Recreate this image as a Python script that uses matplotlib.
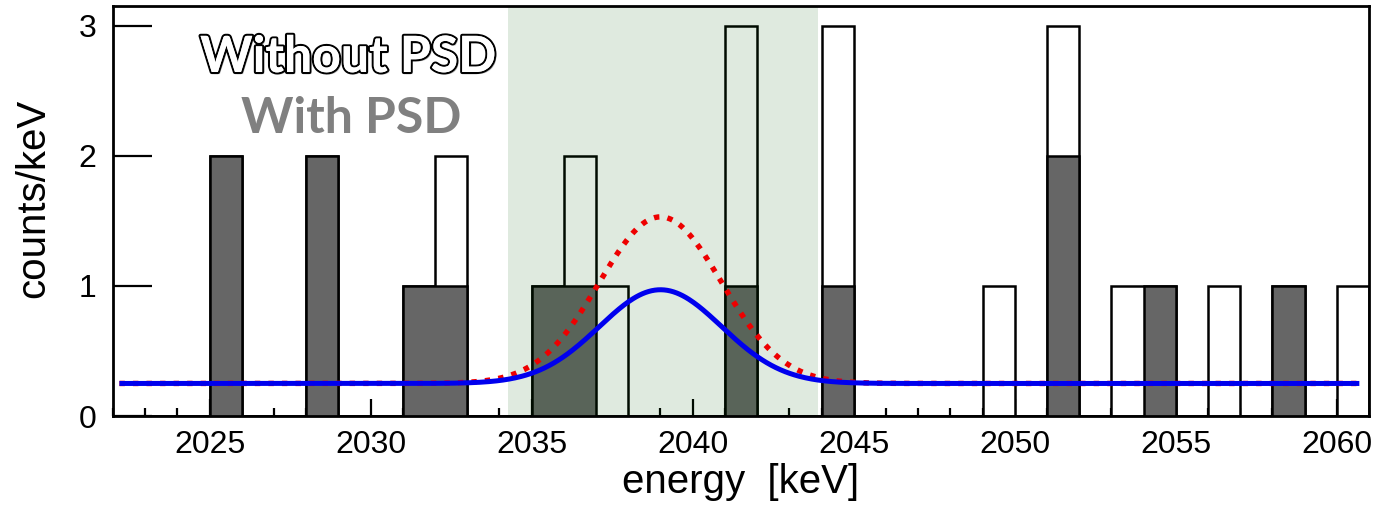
import numpy as np
import matplotlib
matplotlib.use("Agg")
import matplotlib.pyplot as plt
from matplotlib import patheffects as pe
from matplotlib.ticker import MultipleLocator

# ---- data ----
bins_total = [2025, 2028, 2031, 2032, 2035, 2036, 2037, 2041, 2044, 2049, 2051, 2053, 2054, 2056, 2058, 2060]
counts_total = [2, 2, 1, 2, 1, 2, 1, 3, 3, 1, 3, 1, 1, 1, 1, 1]
bins_psd = [2025, 2028, 2031, 2032, 2035, 2036, 2041, 2044, 2051, 2054, 2058]
counts_psd = [2, 2, 1, 1, 1, 1, 1, 1, 2, 1, 1]

# fit model parameters (flat background + gaussian peak)
fit_background = 0.25
fit_mean = 2039.0
fit_sigma = 1.9
fit_amp_without = 1.28
fit_amp_with = 0.72
fit_range = (2022.2, 2060.7)

window = (2034.25, 2043.9)
xticks_major = [2025, 2030, 2035, 2040, 2045, 2050, 2055, 2060]
yticks = [0, 1, 2, 3]
hist_range = (2022, 2061)

plt.rcParams['font.family'] = ['Liberation Sans', 'DejaVu Sans']

W, H = 1379, 505
fig = plt.figure(figsize=(W / 100, H / 100), dpi=100)
ax = fig.add_axes([113 / W, 1 - 416 / H, (1369 - 113) / W, (416 - 6) / H])

edges = np.arange(hist_range[0], hist_range[1] + 1)
h_total = np.zeros(len(edges) - 1)
h_total[np.array(bins_total) - hist_range[0]] = counts_total
h_psd = np.zeros(len(edges) - 1)
h_psd[np.array(bins_psd) - hist_range[0]] = counts_psd

ax.stairs(h_total, edges, fill=True, facecolor='white', edgecolor='none', zorder=2)
ax.stairs(h_total, edges, fill=False, color='black', linewidth=1.8, baseline=0, zorder=2.5)
ax.stairs(h_psd, edges, fill=True, facecolor='#666666', edgecolor='none', zorder=3)
ax.stairs(h_psd, edges, fill=False, color='black', linewidth=1.8, baseline=0, zorder=3.5)

ax.axvspan(window[0], window[1], color=(0.02, 0.37, 0.0), alpha=0.124,
           linewidth=0, zorder=4)

xf = np.linspace(fit_range[0], fit_range[1], 800)
g = np.exp(-0.5 * ((xf - fit_mean) / fit_sigma) ** 2)
ax.plot(xf, fit_background + fit_amp_without * g, color='#ee0000', lw=3.9,
        linestyle=(0, (1, 1.5)), dash_capstyle='butt', zorder=5)
ax.plot(xf, fit_background + fit_amp_with * g, color='#0000ee', lw=3.6,
        solid_capstyle='butt', zorder=6)

ax.set_xlim(*hist_range)
ax.set_ylim(0, 3.15)
ax.set_xticks(xticks_major)
ax.xaxis.set_minor_locator(MultipleLocator(1))
ax.set_yticks(yticks)

for s in ax.spines.values():
    s.set_linewidth(2.0)
    s.set_zorder(7)

ax.tick_params(axis='x', which='major', direction='in', length=12, width=1.6,
               labelsize=23, pad=10)
ax.tick_params(axis='x', which='minor', direction='in', length=6, width=1.6)
ax.tick_params(axis='y', which='major', direction='in', length=28, width=1.6,
               labelsize=23, pad=12)

ax.set_xlabel('energy  [keV]', fontsize=29, labelpad=2)
ax.set_ylabel('counts/keV', fontsize=29)
ax.yaxis.set_label_coords((52 - 113) / 1256, (416 - 198) / 410)

fig.text(348 / W, 1 - 72 / H, 'Without PSD', fontsize=36, fontweight='bold',
         family=['Lato', 'DejaVu Sans'], color='white', ha='center', va='baseline',
         path_effects=[pe.SimplePatchShadow(offset=(1.5, -1.5), shadow_rgbFace='#999999', alpha=0.6),
                       pe.withStroke(linewidth=3, foreground='black'),
                       pe.Normal()])
fig.text(351 / W, 1 - 133 / H, 'With PSD', fontsize=36, fontweight='bold',
         family=['Lato', 'DejaVu Sans'], color='#808080', ha='center', va='baseline')

fig.savefig('out.png', dpi=100)
